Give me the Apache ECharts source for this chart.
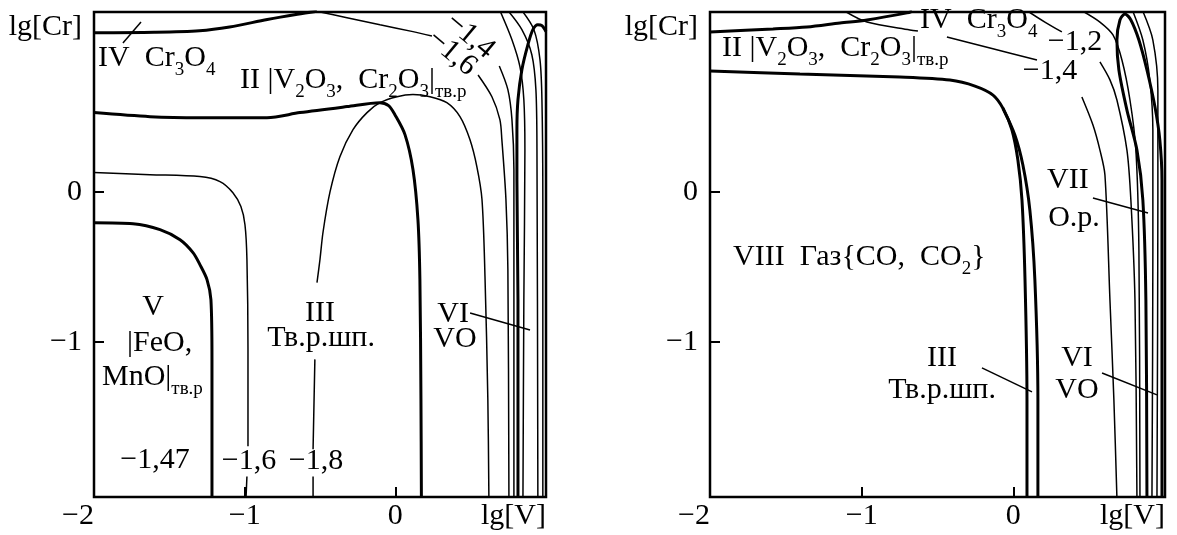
<!DOCTYPE html>
<html>
<head>
<meta charset="utf-8">
<script src="https://cdn.jsdelivr.net/npm/echarts@6/dist/echarts.min.js"></script>
<style>html,body{margin:0;padding:0;background:#fff}#c{width:1177px;height:535px}</style>
</head>
<body>
<div id="c"></div>
<script>
// ---------- axis ticks / labels ----------
const xTickLabels = [-2, -1, 0, 1];
const xTickMarks = [-1, 0];
const yTickLabels = [-1, 0, 1.2];
const yTickMarks = [-1, 0];

// ---------- left panel curves (lg[V], lg[Cr]) ----------
const L_IV_II = [[-2.0,1.062],[-1.6,1.065],[-1.3,1.075],[-1.1,1.10],[-0.85,1.15],[-0.65,1.185],[-0.52,1.205]];
const L_II_low = [[-2.0,0.529],[-1.628,0.502],[-1.297,0.495],[-0.852,0.495],[-0.633,0.529],[-0.321,0.569],[-0.102,0.595],[-0.045,0.575],[-0.003,0.515],[0.064,0.382],[0.117,0.149],[0.150,-0.185],[0.163,-0.582],[0.170,-1.38],[0.173,-2.04]];
const L_c18 = [[-0.546,-2.04],[-0.546,-1.898],[null,null],[-0.546,-1.717],[-0.534,-1.117],[null,null],[-0.520,-0.605],[-0.500,-0.449],[-0.480,-0.269],[-0.434,-0.002],[-0.368,0.235],[-0.281,0.415],[-0.188,0.529],[-0.102,0.595],[0.011,0.635],[0.117,0.649],[0.230,0.635],[0.342,0.595],[0.429,0.502],[0.495,0.349],[0.541,0.169],[0.575,-0.049],[0.595,-0.562],[0.614,-1.385],[0.621,-2.04]];
const L_c16low = [[-2.0,0.129],[-1.628,0.115],[-1.297,0.102],[-1.164,0.069],[-1.078,-0.005],[-1.025,-0.098],[-0.998,-0.219],[-0.985,-0.449],[-0.978,-1.05],[-0.978,-1.697],[null,null],[-0.985,-1.898],[-0.991,-2.04]];
const L_c147 = [[-2.0,-0.205],[-1.741,-0.212],[-1.562,-0.252],[-1.429,-0.319],[-1.343,-0.405],[-1.297,-0.485],[-1.250,-0.585],[-1.224,-0.719],[-1.217,-1.119],[-1.217,-2.04]];
const L_c16up = [[-0.547,1.21],[-0.321,1.162],[-0.102,1.115],[0.117,1.069],[0.243,1.04],[null,null],[0.549,0.78],[0.641,0.635],[0.694,0.482],[0.707,0.349],[0.734,-0.049],[0.747,-0.518],[0.754,-2.04]];
const L_c14 = [[0.69,0.84],[0.747,0.682],[0.774,0.482],[0.787,0.149],[0.787,-0.72],[0.787,-2.04]];
const L_cd = [[0.694,1.21],[0.774,1.015],[0.827,0.835],[0.853,0.615],[0.860,0.282],[0.853,-0.718],[0.847,-2.04]];
const L_arc = [[0.814,-2.04],[0.814,-0.718],[0.807,0.082],[0.807,0.415],[0.814,0.615],[0.840,0.815],[0.880,0.982],[0.913,1.082],[0.946,1.115],[0.973,1.109],[1.0,1.069]];
const L_ce = [[0.747,1.21],[0.840,1.082],[0.906,0.915],[0.933,0.682],[0.940,0.282],[0.946,-2.04]];
const L_cf = [[0.840,1.21],[0.920,1.082],[0.960,0.882],[0.973,0.615],[0.979,-0.049],[0.979,-2.04]];
const L_ptrIV = [[-1.808,0.993],[-1.688,1.133]];
const L_ptrVI = [[0.496,-0.808],[0.894,-0.921]];

// ---------- right panel curves ----------
const R_IV_II = [[-2.0,1.067],[-1.585,1.087],[-1.361,1.100],[-1.143,1.127],[-0.965,1.147],[-0.701,1.194],[-0.668,1.205]];
const R_c14 = [[-1.110,1.205],[-0.965,1.133],[-0.682,1.080],[-0.629,1.073],[null,null],[-0.438,1.033],[-0.154,0.960],[0.156,0.880],[null,null],[0.452,0.633],[0.525,0.446],[0.571,0.279],[0.604,0.113],[0.637,-0.721],[0.663,-1.388],[0.683,-2.04]];
const R_c12 = [[0.096,1.205],[0.208,1.133],[0.320,1.067],[null,null],[0.571,0.867],[0.637,0.747],[0.683,0.613],[0.749,0.279],[0.775,-0.054],[0.802,-0.721],[0.815,-2.04]];
const R_t3 = [[0.459,1.205],[0.571,1.133],[0.657,1.047],[0.716,0.880],[0.769,0.613],[0.808,0.279],[0.828,-0.388],[0.835,-2.04]];
const R_arc = [[0.881,-2.04],[0.874,-0.721],[0.854,-0.054],[0.815,0.279],[0.749,0.546],[0.696,0.813],[0.683,1.013],[0.703,1.147],[0.736,1.187],[0.775,1.147],[0.828,1.013],[0.881,0.813],[0.934,0.566],[0.966,0.346],[0.980,0.079],[0.980,-0.721],[0.980,-2.04]];
const R_t4 = [[0.788,1.205],[0.854,1.013],[0.900,0.746],[0.920,0.413],[0.920,-0.388],[0.914,-2.04]];
const R_t5 = [[0.854,1.205],[0.920,1.013],[0.953,0.680],[0.953,-0.054],[0.947,-2.04]];
const R_VIII_a = [[-2.0,0.806],[-1.407,0.786],[-0.748,0.766],[-0.418,0.746],[-0.253,0.706],[-0.134,0.646],[-0.069,0.559],[-0.009,0.413],[0.030,0.213],[0.057,-0.054],[0.077,-0.587],[0.090,-1.388],[0.090,-2.04]];
const R_VIII_b = [[-0.069,0.559],[0.010,0.380],[0.063,0.179],[0.109,-0.121],[0.142,-0.587],[0.162,-1.388],[0.162,-2.04]];
const R_ptrVII = [[0.525,-0.041],[0.888,-0.141]];
const R_ptrIII = [[-0.207,-1.174],[0.123,-1.334]];
const R_ptrVI = [[0.585,-1.208],[0.947,-1.354]];

// ---------- annotations ----------
const notes = [
  {g:0, p:[-1.973,0.893], t:'IV  Cr{s|3}O{s|4}', a:'left'},
  {g:0, p:[-1.031,0.746], t:'II |V{s|2}O{s|3},  Cr{s|2}O{s|3}|{s|тв.р}', a:'left'},
  {g:0, p:[-1.608,-0.768], t:'V', a:'center'},
  {g:0, p:[-1.781,-1.008], t:'|FeO,', a:'left'},
  {g:0, p:[-1.947,-1.235], t:'MnO|{s|тв.р}', a:'left'},
  {g:0, p:[-0.500,-0.808], t:'III', a:'center'},
  {g:0, p:[-0.493,-0.975], t:'Тв.р.шп.', a:'center'},
  {g:0, p:[0.383,-0.814], t:'VI', a:'center'},
  {g:0, p:[0.396,-0.981], t:'VO', a:'center'},
  {g:0, p:[-1.595,-1.788], t:'\u22121,47', a:'center'},
  {g:0, p:[-0.971,-1.795], t:'\u22121,6', a:'center'},
  {g:0, p:[-0.527,-1.795], t:'\u22121,8', a:'center'},
  {g:0, p:[0.496,1.040], t:'\u22121,4', a:'center', r:-40},
  {g:0, p:[0.376,0.927], t:'\u22121,6', a:'center', r:-40},
  {g:1, p:[-1.921,0.960], t:'II |V{s|2}O{s|3},  Cr{s|2}O{s|3}|{s|тв.р}', a:'left'},
  {g:1, p:[-0.615,1.147], t:'IV  Cr{s|3}O{s|4}', a:'left'},
  {g:1, p:[0.407,1.000], t:'\u22121,2', a:'center'},
  {g:1, p:[0.242,0.807], t:'\u22121,4', a:'center'},
  {g:1, p:[-1.848,-0.434], t:'VIII  Газ{CO,  CO{s|2}}', a:'left'},
  {g:1, p:[0.360,0.079], t:'VII', a:'center'},
  {g:1, p:[0.400,-0.174], t:'О.р.', a:'center'},
  {g:1, p:[-0.470,-1.108], t:'III', a:'center'},
  {g:1, p:[-0.470,-1.321], t:'Тв.р.шп.', a:'center'},
  {g:1, p:[0.420,-1.108], t:'VI', a:'center'},
  {g:1, p:[0.420,-1.321], t:'VO', a:'center'}
];

const FONT = 'Liberation Serif';
const THICK = 3, THIN = 1.5;
const fmt = v => (v < 0 ? '\u2212' + Math.abs(v) : String(v));

function xAxis(gi) {
  return {type:'value', gridIndex:gi, min:-2, max:1, position:'bottom',
    axisLine:{show:false, onZero:false}, splitLine:{show:false},
    axisTick:{show:true, inside:true, length:10, customValues:xTickMarks, lineStyle:{color:'#000', width:2}},
    axisLabel:{customValues:xTickLabels, formatter:v => (v === 1 ? 'lg[V]' : fmt(v)),
      color:'#000', fontFamily:FONT, fontSize:30, margin:4, alignMinLabel:'right', alignMaxLabel:'right'}};
}
function yAxis(gi) {
  return {type:'value', gridIndex:gi, min:-2.035, max:1.2, position:'left',
    axisLine:{show:false, onZero:false}, splitLine:{show:false},
    axisTick:{show:true, inside:true, length:10, customValues:yTickMarks, lineStyle:{color:'#000', width:2}},
    axisLabel:{customValues:yTickLabels, formatter:v => (Math.abs(v - 1.2) < 1e-6 ? 'lg[Cr]' : fmt(v)),
      color:'#000', fontFamily:FONT, fontSize:30, margin:12, verticalAlignMaxLabel:'top'}};
}
function line(gi, data, w, smooth) {
  return {type:'line', xAxisIndex:gi, yAxisIndex:gi, data:data, showSymbol:false, symbol:'none',
    smooth: smooth === undefined ? 0.3 : smooth, silent:true, connectNulls:false,
    lineStyle:{color:'#000', width:w}};
}

const chart = echarts.init(document.getElementById('c'), null, {renderer:'canvas'});
const option = {
  animation:false,
  backgroundColor:'#fff',
  grid:[
    {left:94, top:12, width:452, height:485, show:true, borderColor:'#000', borderWidth:2.5, backgroundColor:'transparent'},
    {left:710, top:12, width:455, height:485, show:true, borderColor:'#000', borderWidth:2.5, backgroundColor:'transparent'}
  ],
  xAxis:[xAxis(0), xAxis(1)],
  yAxis:[yAxis(0), yAxis(1)],
  series:[
    line(0, L_IV_II, THICK), line(0, L_II_low, THICK), line(0, L_c18, THIN), line(0, L_c16low, THIN),
    line(0, L_c147, THICK), line(0, L_c16up, THIN), line(0, L_c14, THIN), line(0, L_cd, THIN),
    line(0, L_arc, THICK), line(0, L_ce, THIN), line(0, L_cf, THIN),
    line(0, L_ptrIV, THIN, false), line(0, L_ptrVI, THIN, false),
    line(1, R_IV_II, THICK), line(1, R_c14, THIN), line(1, R_c12, THIN), line(1, R_t3, THIN),
    line(1, R_arc, THICK), line(1, R_t4, THIN), line(1, R_t5, THIN),
    line(1, R_VIII_a, THICK), line(1, R_VIII_b, THICK),
    line(1, R_ptrVII, THIN, false), line(1, R_ptrIII, THIN, false), line(1, R_ptrVI, THIN, false)
  ]
};
chart.setOption(option);

const graphics = notes.map(n => {
  const p = chart.convertToPixel({xAxisIndex:n.g, yAxisIndex:n.g}, n.p);
  return {type:'text', x:p[0], y:p[1], rotation:(n.r || 0) * Math.PI / 180, z:100, silent:true,
    style:{text:n.t, fill:'#000', fontFamily:FONT, fontSize:30, lineHeight:30,
      align:n.a, verticalAlign:'middle',
      rich:{s:{fill:'#000', fontFamily:FONT, fontSize:19, height:6, lineHeight:30, verticalAlign:'bottom'}}}};
});
chart.setOption({graphic:graphics});
</script>
</body>
</html>
